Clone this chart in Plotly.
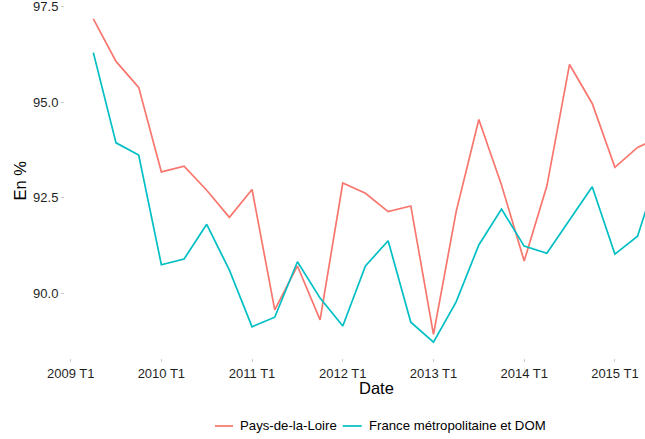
import plotly.graph_objects as go

# ---- data ----
quarters = ["2009 T2", "2009 T3", "2009 T4",
            "2010 T1", "2010 T2", "2010 T3", "2010 T4",
            "2011 T1", "2011 T2", "2011 T3", "2011 T4",
            "2012 T1", "2012 T2", "2012 T3", "2012 T4",
            "2013 T1", "2013 T2", "2013 T3", "2013 T4",
            "2014 T1", "2014 T2", "2014 T3", "2014 T4",
            "2015 T1", "2015 T2", "2015 T3"]

pays_de_la_loire = [97.18, 96.07, 95.39,
                    93.18, 93.33, 92.70, 91.99,
                    92.72, 89.57, 90.72, 89.31,
                    92.89, 92.62, 92.14, 92.29,
                    88.93, 92.14, 94.55, 92.84,
                    90.85, 92.81, 95.99, 94.97,
                    93.30, 93.82, 94.09]

france_metro_dom = [96.30, 93.94, 93.62,
                    90.75, 90.90, 91.81, 90.61,
                    89.13, 89.38, 90.83, 89.88,
                    89.15, 90.72, 91.38, 89.25,
                    88.73, 89.78, 91.27, 92.21,
                    91.24, 91.05, 91.93, 92.79,
                    91.03, 91.50, 93.35]

series_names = ["Pays-de-la-Loire", "France métropolitaine et DOM"]
series_colors = ["#F8766D", "#00BFC4"]

x_tick_labels = ["2009 T1", "2010 T1", "2011 T1", "2012 T1", "2013 T1", "2014 T1", "2015 T1"]
y_tick_values = [90.0, 92.5, 95.0, 97.5]


def quarter_to_num(label):
    year, q = label.split(" T")
    return int(year) + (int(q) - 1) / 4.0


x_vals = [quarter_to_num(q) for q in quarters]
x_tick_vals = [quarter_to_num(q) for q in x_tick_labels]

fig = go.Figure()
for name, vals, col in zip(series_names, [pays_de_la_loire, france_metro_dom], series_colors):
    fig.add_trace(go.Scatter(
        x=x_vals, y=vals, mode="lines", name=name,
        line=dict(color=col, width=1.7),
        customdata=quarters,
        hovertemplate="%{customdata}: %{y:.1f}<extra>" + name + "</extra>",
    ))

FONT = "Liberation Sans, Arial, Helvetica, sans-serif"
TXT = "#1f1f1f"

fig.update_layout(
    width=645, height=439,
    margin=dict(l=65, r=0, t=3, b=81),
    paper_bgcolor="white", plot_bgcolor="white",
    showlegend=False,
    font=dict(family=FONT, color=TXT, size=13),
    xaxis=dict(
        range=[2008.9375, 2015.332],
        tickvals=x_tick_vals, ticktext=x_tick_labels,
        showgrid=False, zeroline=False, showline=False,
        ticks="outside", ticklen=3, tickwidth=1, tickcolor="#cccccc",
        tickfont=dict(size=13, color=TXT, family=FONT),
        automargin=False, ticklabeloverflow="allow",
    ),
    yaxis=dict(
        range=[88.313, 97.597],
        tickvals=y_tick_values, tickformat=".1f",
        showgrid=False, zeroline=False, showline=False,
        ticks="outside", ticklen=3, tickwidth=1, tickcolor="#cccccc",
        tickfont=dict(size=13, color=TXT, family=FONT),
        automargin=False, ticklabeloverflow="allow",
    ),
)

# axis titles
fig.add_annotation(text="En %", xref="paper", yref="paper", x=-0.0776, y=0.5,
                   textangle=-90, showarrow=False, xanchor="center", yanchor="middle",
                   font=dict(size=16.5, color="black", family=FONT))
fig.add_annotation(text="Date", xref="paper", yref="paper", x=0.5374, y=-0.0837,
                   showarrow=False, xanchor="center", yanchor="middle",
                   font=dict(size=16.5, color="black", family=FONT))

# legend (bottom, horizontal)
leg_y = -0.1915
line_spans = [(0.2586, 0.2897), (0.4788, 0.5116)]
text_x = [0.2985, 0.5210]
for name, col, (x0, x1), tx in zip(series_names, series_colors, line_spans, text_x):
    fig.add_shape(type="line", xref="paper", yref="paper", x0=x0, x1=x1, y0=leg_y, y1=leg_y,
                  line=dict(color=col, width=1.7))
    fig.add_annotation(text=name, xref="paper", yref="paper", x=tx, y=leg_y,
                       showarrow=False, xanchor="left", yanchor="middle",
                       font=dict(size=13.2, color="black", family=FONT))

fig.write_html("out.html", config={"displayModeBar": False})

# remove the browser's default page margin so the figure sits at the top-left corner
with open("out.html", "r", encoding="utf-8") as f:
    html = f.read()
html = html.replace("<head>", "<head><style>html,body{margin:0;padding:0;overflow:hidden;}</style>", 1)
with open("out.html", "w", encoding="utf-8") as f:
    f.write(html)
